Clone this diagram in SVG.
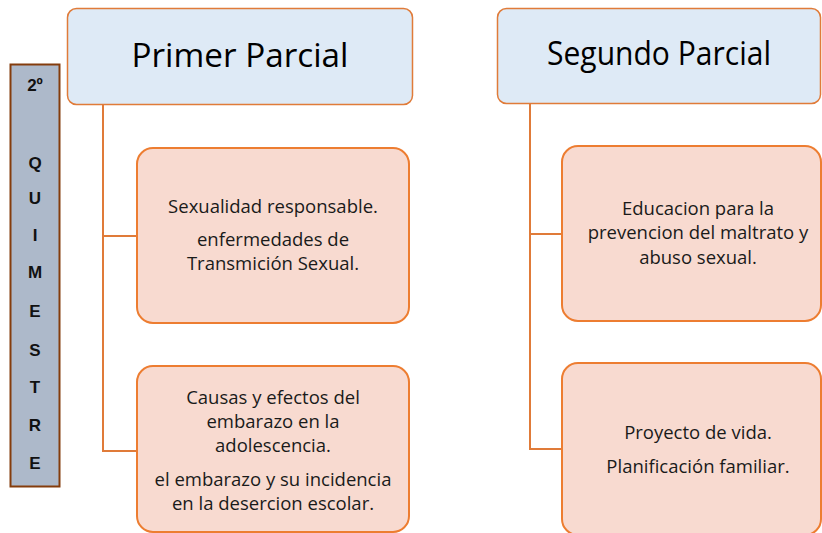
<svg xmlns="http://www.w3.org/2000/svg" width="822" height="533" viewBox="0 0 822 533">
<style>
.hdr{fill:#DEEAF6;stroke:#E07B39;stroke-width:1.5}
.item{fill:#F8DAD0;stroke:#ED7D31;stroke-width:2}
.conn{fill:none;stroke:#E07B39;stroke-width:2}
.ht{font-family:"Open Sans","Liberation Sans",Arial,sans-serif;font-size:32px;fill:#000;text-anchor:middle}
.t{font-family:"Open Sans","Liberation Sans",Arial,sans-serif;font-size:18.5px;fill:#1a1a1a;text-anchor:middle}
.v{font-family:"Liberation Sans",Arial,sans-serif;font-size:17px;font-weight:bold;fill:#111;text-anchor:middle}
</style>
<rect width="822" height="533" fill="#fff"/>
<g id="connectors">
<path class="conn" d="M103,105 V451 H137 M103,236 H137"/>
<path class="conn" d="M530,104 V449 H562 M530,234 H562"/>
</g>
<g id="quimestre">
<rect x="10.5" y="64.5" width="49" height="422" fill="#ADB9CA" stroke="#843C0C" stroke-width="2"/>
<text class="v" x="35" y="91">2º</text>
<text class="v" x="35" y="169">Q</text>
<text class="v" x="35" y="204">U</text>
<text class="v" x="35" y="241">I</text>
<text class="v" x="35" y="278">M</text>
<text class="v" x="35" y="317">E</text>
<text class="v" x="35" y="356">S</text>
<text class="v" x="35" y="393">T</text>
<text class="v" x="35" y="431">R</text>
<text class="v" x="35" y="469">E</text>
</g>
<g id="primer">
<rect class="hdr" x="67.5" y="8.5" width="345" height="96" rx="9"/>
<text class="ht" x="240" y="67" textLength="217" lengthAdjust="spacingAndGlyphs">Primer Parcial</text>
</g>
<g id="segundo">
<rect class="hdr" x="497.5" y="8.5" width="323" height="95" rx="9"/>
<text class="ht" x="659" y="65" textLength="224" lengthAdjust="spacingAndGlyphs">Segundo Parcial</text>
</g>
<g id="sexualidad">
<rect class="item" x="137" y="148" width="272" height="175" rx="16"/>
<text class="t" x="273" y="213">Sexualidad responsable.</text>
<text class="t" x="273" y="246">enfermedades de</text>
<text class="t" x="273" y="270">Transmición Sexual.</text>
</g>
<g id="causas">
<rect class="item" x="137" y="366" width="272" height="166" rx="16"/>
<text class="t" x="273" y="404">Causas y efectos del</text>
<text class="t" x="273" y="428">embarazo en la</text>
<text class="t" x="273" y="452">adolescencia.</text>
<text class="t" x="273" y="486">el embarazo y su incidencia</text>
<text class="t" x="273" y="510">en la desercion escolar.</text>
</g>
<g id="educacion">
<rect class="item" x="562" y="146" width="259" height="175" rx="16"/>
<text class="t" x="698" y="215">Educacion para la</text>
<text class="t" x="698" y="239">prevencion del maltrato y</text>
<text class="t" x="698" y="264">abuso sexual.</text>
</g>
<g id="proyecto">
<rect class="item" x="562" y="363" width="259" height="172" rx="16"/>
<text class="t" x="698" y="439">Proyecto de vida.</text>
<text class="t" x="698" y="473">Planificación familiar.</text>
</g>
</svg>
